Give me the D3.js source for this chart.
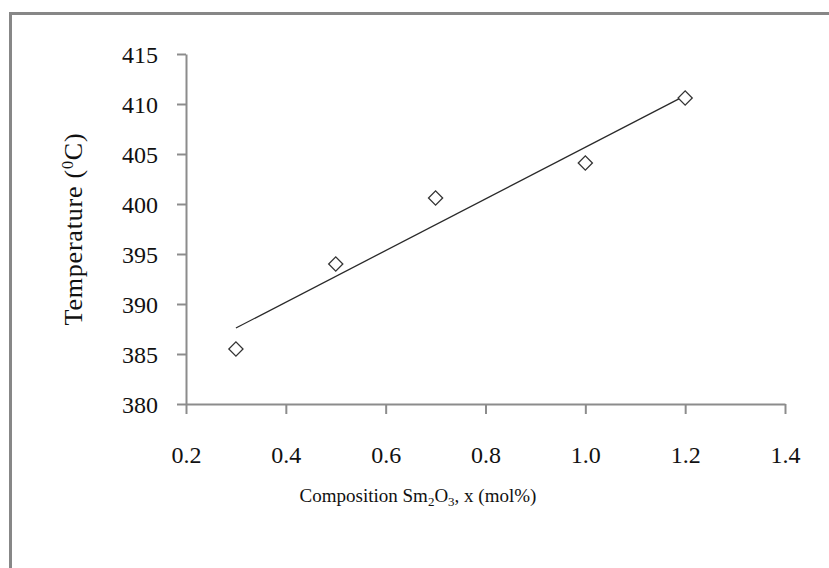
<!DOCTYPE html>
<html>
<head>
<meta charset="utf-8">
<script src="https://cdn.jsdelivr.net/npm/d3@7"></script>
<style>
  body { margin: 0; background: #fff; }
  text { font-family: "Liberation Serif", "Times New Roman", serif; fill: #111; }
</style>
</head>
<body>
<div id="wrapper"></div>
<script>
// data
const composition = [0.3, 0.5, 0.7, 1.0, 1.2]
const temperature = [385.5, 394.0, 400.6, 404.1, 410.6]
const xTicks = [0.2, 0.4, 0.6, 0.8, 1.0, 1.2, 1.4]
const xTickLabels = ["0.2", "0.4", "0.6", "0.8", "1.0", "1.2", "1.4"]
const yTicks = [380, 385, 390, 395, 400, 405, 410, 415]

const dataset = composition.map((x, i) => ({ x, y: temperature[i] }))

function drawChart() {

  // 1. Access data
  const xAccessor = d => d.x
  const yAccessor = d => d.y

  // 2. Create chart dimensions
  let dimensions = {
    width: 829,
    height: 568,
    margin: {
      top: 54,
      right: 44,
      bottom: 164,
      left: 186,
    },
  }
  dimensions.boundedWidth = dimensions.width
    - dimensions.margin.left
    - dimensions.margin.right
  dimensions.boundedHeight = dimensions.height
    - dimensions.margin.top
    - dimensions.margin.bottom

  // 3. Draw canvas
  const wrapper = d3.select("#wrapper")
    .append("svg")
      .attr("width", dimensions.width)
      .attr("height", dimensions.height)

  // outer frame, runs off the right and bottom edges
  wrapper.append("rect")
      .attr("x", 10.5)
      .attr("y", 13.5)
      .attr("width", 900)
      .attr("height", 700)
      .attr("fill", "none")
      .attr("stroke", "#878787")
      .attr("stroke-width", 3)

  const bounds = wrapper.append("g")
      .attr("transform", `translate(${dimensions.margin.left}, ${dimensions.margin.top})`)

  // 4. Create scales
  const xScale = d3.scaleLinear()
    .domain([0.2, 1.4])
    .range([0, dimensions.boundedWidth])

  const yScale = d3.scaleLinear()
    .domain([380, 415])
    .range([dimensions.boundedHeight, 0])

  // 6. Draw peripherals (under the data)
  const xAxisGenerator = d3.axisBottom(xScale)
    .tickValues(xTicks)
    .tickFormat((d, i) => xTickLabels[i])
    .tickSize(10)
    .tickSizeOuter(0)
    .tickPadding(32)

  const xAxis = bounds.append("g")
      .attr("class", "x-axis")
      .attr("transform", `translate(0, ${dimensions.boundedHeight})`)
    .call(xAxisGenerator)

  const yAxisGenerator = d3.axisLeft(yScale)
    .tickValues(yTicks)
    .tickSize(9)
    .tickSizeOuter(0)
    .tickPadding(19)

  const yAxis = bounds.append("g")
      .attr("class", "y-axis")
    .call(yAxisGenerator)

  bounds.selectAll(".x-axis path, .y-axis path, .tick line")
      .attr("stroke", "#8c8c8c")
      .attr("stroke-width", 2)
  bounds.selectAll(".tick text")
      .attr("font-family", "Liberation Serif, Times New Roman, serif")
      .attr("font-size", 24)
      .attr("fill", "#111")
  yAxis.selectAll(".tick text").attr("dy", "0.36em")

  // 5. Draw data
  // least squares trendline through the points
  const meanX = d3.mean(dataset, xAccessor)
  const meanY = d3.mean(dataset, yAccessor)
  const slope = d3.sum(dataset, d => (xAccessor(d) - meanX) * (yAccessor(d) - meanY))
    / d3.sum(dataset, d => (xAccessor(d) - meanX) ** 2)
  const fit = x => meanY + slope * (x - meanX)
  const xExtent = d3.extent(dataset, xAccessor)

  const lineGenerator = d3.line()
    .x(d => xScale(d))
    .y(d => yScale(fit(d)))

  bounds.append("path")
      .attr("class", "trendline")
      .attr("d", lineGenerator(xExtent))
      .attr("fill", "none")
      .attr("stroke", "#2a2a2a")
      .attr("stroke-width", 1.3)

  const diamond = d3.symbol().type(d3.symbolSquare).size(100)

  bounds.selectAll(".point")
    .data(dataset)
    .join("path")
      .attr("class", "point")
      .attr("d", diamond)
      .attr("transform", d => `translate(${xScale(xAccessor(d))}, ${yScale(yAccessor(d))}) rotate(45)`)
      .attr("fill", "#fff")
      .attr("stroke", "#333")
      .attr("stroke-width", 1.3)

  // axis titles
  const xLabel = wrapper.append("text")
      .attr("x", 418)
      .attr("y", 502)
      .attr("text-anchor", "middle")
      .attr("font-size", 19)
  xLabel.append("tspan").text("Composition Sm")
  xLabel.append("tspan").attr("font-size", 13).attr("dy", 4).text("2")
  xLabel.append("tspan").attr("dy", -4).text("O")
  xLabel.append("tspan").attr("font-size", 13).attr("dy", 4).text("3")
  xLabel.append("tspan").attr("dy", -4).text(", x (mol%)")

  const yLabel = wrapper.append("text")
      .attr("transform", "translate(82, 229) rotate(-90)")
      .attr("text-anchor", "middle")
      .attr("font-size", 26)
      .attr("letter-spacing", 0.8)
  yLabel.append("tspan").text("Temperature (")
  yLabel.append("tspan").attr("font-size", 16).attr("dy", -9).text("0")
  yLabel.append("tspan").attr("dy", 9).text("C)")
}

drawChart()
</script>
</body>
</html>
